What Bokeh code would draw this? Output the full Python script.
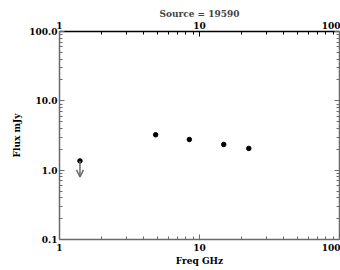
from bokeh.plotting import figure
from bokeh.models import (Range1d, LogAxis, FixedTicker, CustomJSTickFormatter,
                          Arrow, OpenHead, ColumnDataSource)
from bokeh.embed import file_html
from bokeh.resources import INLINE

# ---- data ----
freq_ghz = [1.4, 4.86, 8.46, 14.9, 22.5]
flux_mjy = [1.36, 3.24, 2.77, 2.35, 2.06]
upper_limit = [True, False, False, False, False]
title_text = "Source = 19590"
x_label = "Freq GHz"
y_label = "Flux mJy"
x_major = [1, 10, 100]
y_major = [0.1, 1, 10, 100]

FONT = "DejaVu Serif"
FS = "9px"
AX_GRAY = "#6a6a6a"

def minor_ticks(majors):
    out = []
    for m in majors[:-1]:
        out += [m * k for k in range(2, 10)]
    return out

p = figure(width=340, height=268, x_axis_type="log", y_axis_type="log",
           x_range=Range1d(1, 100), y_range=Range1d(0.1, 100),
           output_backend="svg", toolbar_location=None,
           min_border_left=59, min_border_right=1, min_border_top=31,
           min_border_bottom=27)
p.grid.visible = False
p.outline_line_color = None
p.background_fill_color = "white"
p.border_fill_color = "white"

p.title.text = title_text
p.title.align = "center"
p.title.text_font = FONT
p.title.text_font_size = FS
p.title.text_font_style = "bold"
p.title.offset = 0
p.title.standoff = 0

xfmt = CustomJSTickFormatter(code="return tick.toFixed(0);")
yfmt = CustomJSTickFormatter(code="return tick.toFixed(1);")
nofmt = CustomJSTickFormatter(code="return '';")

top = LogAxis()
right = LogAxis()
p.add_layout(top, "above")
p.add_layout(right, "right")

def style(ax, majors, fmt, color):
    ax.ticker = FixedTicker(ticks=majors, minor_ticks=minor_ticks(majors))
    ax.formatter = fmt
    ax.axis_line_color = color
    ax.axis_line_width = 1.5
    ax.major_tick_line_color = color
    ax.minor_tick_line_color = color
    ax.major_tick_in = 5
    ax.major_tick_out = 0
    ax.minor_tick_in = 3
    ax.minor_tick_out = 0
    ax.major_label_text_font = FONT
    ax.major_label_text_font_style = "bold"
    ax.major_label_text_color = "black"
    ax.major_label_text_font_size = FS
    ax.axis_label_text_font = FONT
    ax.axis_label_text_font_style = "bold"
    ax.axis_label_text_font_size = FS
    ax.axis_label_text_color = "black"

style(p.below[0], x_major, xfmt, AX_GRAY)
style(top, x_major, xfmt, "black")
style(p.left[0], y_major, yfmt, AX_GRAY)
style(right, y_major, nofmt, AX_GRAY)
right.major_label_standoff = 0
right.axis_label_standoff = 0

p.below[0].axis_label = x_label
p.below[0].major_label_standoff = 4
p.below[0].axis_label_standoff = 2
top.major_label_standoff = 3
p.left[0].axis_label = y_label
p.left[0].major_label_standoff = 2
p.left[0].axis_label_standoff = 4

src = ColumnDataSource(dict(x=freq_ghz, y=flux_mjy))
p.scatter("x", "y", source=src, size=4.5, color="black")

# upper-limit arrows (length is a fixed style factor)
ARROW_FACTOR = 1.7
for f, s, u in zip(freq_ghz, flux_mjy, upper_limit):
    if u:
        p.add_layout(Arrow(x_start=f, y_start=s, x_end=f, y_end=s / ARROW_FACTOR,
                           line_color=AX_GRAY, line_width=1.5,
                           end=OpenHead(size=7, line_color=AX_GRAY, line_width=1.5)))

open("out.html", "w").write(file_html(p, INLINE))
